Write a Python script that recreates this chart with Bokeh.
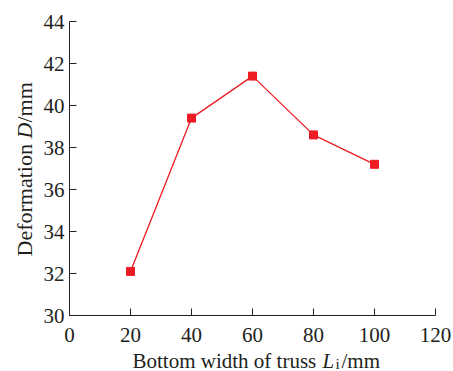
from math import pi

from bokeh.plotting import figure
from bokeh.models import Label, Range1d, FixedTicker
from bokeh.embed import file_html
from bokeh.resources import INLINE

# Measured deformation for each truss bottom width
bottom_width = [20, 40, 60, 80, 100]
deformation = [32.1, 39.4, 41.4, 38.6, 37.2]

x_ticks = [0, 20, 40, 60, 80, 100, 120]
y_ticks = [30, 32, 34, 36, 38, 40, 42, 44]
X0, X1 = 0, 120
Y0, Y1 = 30, 44

# Canvas size and where the axis box sits on it (pixels)
W, H = 453, 371
BOX_L, BOX_R, BOX_T, BOX_B = 69, 435, 21, 315

# The frame spans the whole canvas, so extend the ranges past the axis box;
# the axes are pinned at x=0 / y=30 and bounded to the data extent.
sx = (BOX_R - BOX_L) / (X1 - X0)
sy = (BOX_B - BOX_T) / (Y1 - Y0)
XS, XE = X0 - BOX_L / sx, X1 + (W - BOX_R) / sx
YS, YE = Y0 - (H - BOX_B) / sy, Y1 + BOX_T / sy

INK = "#231f20"
RED = "#ed1c24"
FONT = "Liberation Serif"

p = figure(width=W, height=H, output_backend="svg", toolbar_location=None,
           x_range=Range1d(XS, XE), y_range=Range1d(YS, YE),
           min_border=0, min_border_left=0, min_border_right=0,
           min_border_top=0, min_border_bottom=0)
p.outline_line_color = None
p.grid.visible = False
p.background_fill_color = "white"
p.border_fill_color = "white"

p.xaxis.ticker = FixedTicker(ticks=x_ticks)
p.yaxis.ticker = FixedTicker(ticks=y_ticks)
p.xaxis.fixed_location = Y0
p.yaxis.fixed_location = X0
p.xaxis.bounds = (X0, X1)
p.yaxis.bounds = (Y0, Y1)
for ax in (p.xaxis, p.yaxis):
    ax.axis_line_color = INK
    ax.axis_line_width = 1
    ax.major_tick_line_color = INK
    ax.major_tick_in = 7
    ax.major_tick_out = 0
    ax.minor_tick_line_color = None
    ax.major_label_text_font = FONT
    ax.major_label_text_font_size = "21px"
    ax.major_label_text_color = INK
    ax.axis_label = None
p.xaxis.major_label_standoff = 12
p.yaxis.major_label_standoff = 5

p.line(bottom_width, deformation, line_color=RED, line_width=1.3)
p.scatter(bottom_width, deformation, marker="square", size=8,
          fill_color=RED, line_color=RED)


def dx(px):
    """Canvas pixel column -> data x."""
    return XS + px * (XE - XS) / W


def dy(py):
    """Canvas pixel row -> data y."""
    return YE - py * (YE - YS) / H


def add_text(text, px, py, size, style="normal", angle=0):
    p.add_layout(Label(x=dx(px), y=dy(py), text=text, text_font=FONT,
                       text_font_size=size, text_font_style=style,
                       text_color=INK, text_align="left",
                       text_baseline="alphabetic", angle=angle))


# x-axis title: Bottom width of truss L_i/mm
XT = 360
add_text("Bottom width of truss", 132, XT, "21px")
add_text("L", 322, XT, "21px", "italic")
add_text("i", 335, XT + 3.5, "15px")
add_text("/mm", 341, XT, "21px")

# y-axis title: Deformation D/mm, reading upward
YT = 24
add_text("Deformation", YT, 256, "22px", angle=pi / 2)
add_text("D", YT, 138, "22px", "italic", angle=pi / 2)
add_text("/mm", YT, 122, "22px", angle=pi / 2)

open("out.html", "w").write(file_html(p, INLINE))
